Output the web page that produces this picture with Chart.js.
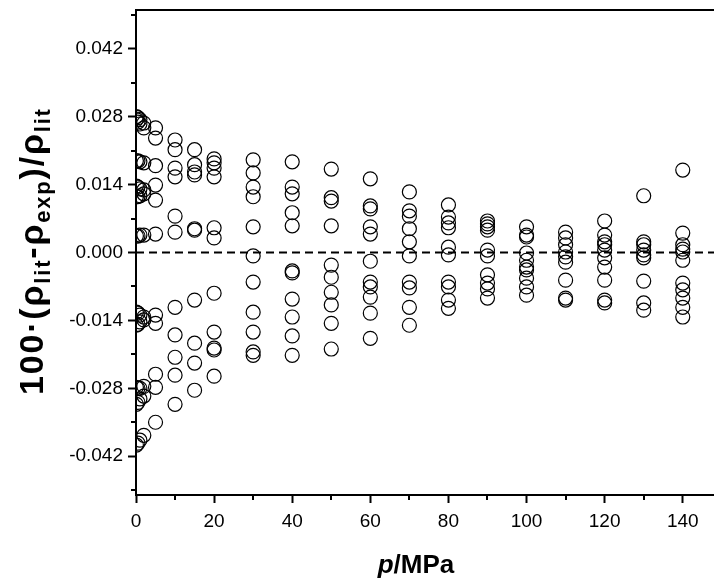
<!DOCTYPE html>
<html>
<head>
<meta charset="utf-8">
<script src="https://cdn.jsdelivr.net/npm/chart.js@4.4.1/dist/chart.umd.min.js"></script>
<style>
  html, body { margin: 0; padding: 0; background: #fff; }
  canvas { display: block; }
</style>
</head>
<body>
<canvas id="c" width="714" height="581"></canvas>
<script>
// ---- data (pressure in MPa, deviation 100·(ρlit-ρexp)/ρlit) ----
const pressures = [0.1, 0.5, 1, 2, 5, 10, 15, 20, 30, 40, 50, 60, 70, 80, 90, 100, 110, 120, 130, 140];

const dev_0_1 = [0.0280, 0.0274, 0.0189, 0.0137, 0.0115, 0.0034, -0.0123, -0.0150, -0.0278, -0.0313, -0.0397];
const dev_0_5 = [0.0278, 0.0269, 0.0189, 0.0135, 0.0115, 0.0034, -0.0125, -0.0148, -0.0280, -0.0309, -0.0393];
const dev_1   = [0.0274, 0.0265, 0.0187, 0.0131, 0.0117, 0.0036, -0.0129, -0.0143, -0.0280, -0.0302, -0.0387];
const dev_2   = [0.0267, 0.0257, 0.0185, 0.0129, 0.0121, 0.0036, -0.0133, -0.0139, -0.0276, -0.0296, -0.0377];
const dev_5   = [0.0257, 0.0236, 0.0179, 0.0139, 0.0108, 0.0038, -0.0129, -0.0146, -0.0251, -0.0278, -0.0350];
const dev_10  = [0.0232, 0.0212, 0.0174, 0.0156, 0.0075, 0.0042, -0.0113, -0.0170, -0.0216, -0.0253, -0.0313];
const dev_15  = [0.0212, 0.0181, 0.0166, 0.0160, 0.0049, 0.0046, -0.0098, -0.0187, -0.0228, -0.0284];
const dev_20  = [0.0193, 0.0185, 0.0174, 0.0156, 0.0051, 0.0030, -0.0084, -0.0164, -0.0197, -0.0201, -0.0255];
const dev_30  = [0.0191, 0.0164, 0.0135, 0.0115, 0.0053, -0.0007, -0.0061, -0.0123, -0.0164, -0.0205, -0.0212];
const dev_40  = [0.0187, 0.0135, 0.0121, 0.0082, 0.0055, -0.0038, -0.0042, -0.0096, -0.0133, -0.0172, -0.0212];
const dev_50  = [0.0172, 0.0113, 0.0106, 0.0055, -0.0026, -0.0051, -0.0082, -0.0108, -0.0146, -0.0199];
const dev_60  = [0.0152, 0.0096, 0.0090, 0.0053, 0.0038, -0.0018, -0.0061, -0.0071, -0.0092, -0.0125, -0.0177];
const dev_70  = [0.0125, 0.0086, 0.0075, 0.0049, 0.0022, -0.0007, -0.0061, -0.0073, -0.0113, -0.0150];
const dev_80  = [0.0098, 0.0073, 0.0061, 0.0051, 0.0011, -0.0005, -0.0061, -0.0071, -0.0098, -0.0115];
const dev_90  = [0.0065, 0.0059, 0.0053, 0.0046, 0.0005, -0.0007, -0.0046, -0.0063, -0.0075, -0.0094];
const dev_100 = [0.0053, 0.0036, 0.0032, -0.0001, -0.0016, -0.0030, -0.0036, -0.0053, -0.0071, -0.0088];
const dev_110 = [0.0042, 0.0030, 0.0016, 0.0001, -0.0009, -0.0020, -0.0057, -0.0094, -0.0098];
const dev_120 = [0.0065, 0.0036, 0.0022, 0.0016, 0.0005, -0.0011, -0.0030, -0.0057, -0.0098, -0.0104];
const dev_130 = [0.0117, 0.0022, 0.0016, 0.0005, -0.0005, -0.0011, -0.0059, -0.0104, -0.0119];
const dev_140 = [0.0170, 0.0040, 0.0016, 0.0007, 0.0001, -0.0016, -0.0063, -0.0077, -0.0094, -0.0113, -0.0133];

const deviations = [dev_0_1, dev_0_5, dev_1, dev_2, dev_5, dev_10, dev_15, dev_20, dev_30, dev_40,
                    dev_50, dev_60, dev_70, dev_80, dev_90, dev_100, dev_110, dev_120, dev_130, dev_140];

const xRange = [0, 148];
const yRange = [-0.05, 0.05];
const xMajorStep = 20, xMinorStep = 10;
const yMajorStep = 0.014, yMinorStep = 0.007;

// ---- build points ----
const points = [];
pressures.forEach((p, i) => deviations[i].forEach(d => points.push({ x: p, y: d })));

const FONT = '"Liberation Sans", Arial, Helvetica, sans-serif';

function isMult(v, step) {
  const r = v / step;
  return Math.abs(r - Math.round(r)) < 1e-6;
}
function stepTicks(min, max, step) {
  const out = [];
  for (let k = Math.ceil(min / step - 1e-9); k * step <= max + 1e-9; k++) {
    out.push({ value: Number((k * step).toFixed(6)) });
  }
  return out;
}

const decorPlugin = {
  id: 'decor',
  afterDraw(chart) {
    const ctx = chart.ctx;
    const ca = chart.chartArea;
    const xs = chart.scales.x, ys = chart.scales.y;
    ctx.save();
    ctx.strokeStyle = '#000';
    ctx.lineWidth = 2;
    // top frame line
    ctx.beginPath();
    ctx.moveTo(ca.left - 1, ca.top);
    ctx.lineTo(ca.right, ca.top);
    ctx.stroke();
    // minor ticks
    ys.ticks.forEach(t => {
      if (!isMult(t.value, yMajorStep)) {
        const y = Math.round(ys.getPixelForValue(t.value));
        ctx.beginPath();
        ctx.moveTo(ca.left - 5, y);
        ctx.lineTo(ca.left, y);
        ctx.stroke();
      }
    });
    xs.ticks.forEach(t => {
      if (!isMult(t.value, xMajorStep)) {
        const x = Math.round(xs.getPixelForValue(t.value));
        ctx.beginPath();
        ctx.moveTo(x, ca.bottom);
        ctx.lineTo(x, ca.bottom + 5);
        ctx.stroke();
      }
    });

    // x-axis title: p/MPa
    ctx.fillStyle = '#000';
    ctx.textBaseline = 'alphabetic';
    const fMain = 'bold 26px ' + FONT;
    const fIt = 'italic bold 26px ' + FONT;
    ctx.font = fIt;
    const wP = ctx.measureText('p').width;
    ctx.font = fMain;
    const wRest = ctx.measureText('/MPa').width;
    let x0 = 416 - (wP + wRest) / 2;
    ctx.font = fIt; ctx.fillText('p', x0, 573);
    ctx.font = fMain; ctx.fillText('/MPa', x0 + wP, 573);

    // y-axis title: 100·(ρlit-ρexp)/ρlit  (drawn char by char with slight spacing)
    const segs = [
      { t: '100\u00B7(\u03C1', sub: false },
      { t: 'lit', sub: true },
      { t: '-\u03C1', sub: false },
      { t: 'exp', sub: true },
      { t: ')/\u03C1', sub: false },
      { t: 'lit', sub: true }
    ];
    const fY = 'bold 34px ' + FONT;
    const fSub = 'bold 22px ' + FONT;
    const spacing = 1.8;
    const glyphs = [];
    segs.forEach(s => {
      ctx.font = s.sub ? fSub : fY;
      for (const ch of s.t) {
        glyphs.push({ ch, sub: s.sub, w: ctx.measureText(ch).width + spacing });
      }
    });
    const total = glyphs.reduce((a, g) => a + g.w, 0) - spacing;
    ctx.translate(43, 252);
    ctx.rotate(-Math.PI / 2);
    let cx = -total / 2;
    glyphs.forEach(g => {
      ctx.font = g.sub ? fSub : fY;
      ctx.fillText(g.ch, cx, g.sub ? 7 : 0);
      cx += g.w;
    });
    ctx.restore();
  }
};

new Chart(document.getElementById('c'), {
  type: 'scatter',
  data: {
    datasets: [
      {
        label: 'deviation',
        data: points,
        pointStyle: 'circle',
        pointRadius: 7,
        pointHoverRadius: 7,
        borderColor: '#000',
        borderWidth: 1.2,
        backgroundColor: 'rgba(255,255,255,0)',
        order: 1
      },
      {
        type: 'line',
        label: 'zero',
        data: [{ x: xRange[0], y: 0 }, { x: xRange[1], y: 0 }],
        borderColor: '#000',
        borderWidth: 2,
        borderDash: [8, 5],
        pointRadius: 0,
        fill: false,
        order: 2
      }
    ]
  },
  options: {
    responsive: false,
    animation: false,
    devicePixelRatio: 1,
    layout: { autoPadding: false, padding: { top: 10, right: 0, left: 0, bottom: 0 } },
    plugins: { legend: { display: false }, tooltip: { enabled: false } },
    scales: {
      x: {
        type: 'linear',
        min: xRange[0], max: xRange[1],
        afterFit(scale) { scale.height = 86; scale.paddingLeft = 0; scale.paddingRight = 0; },
        afterBuildTicks(scale) { scale.ticks = stepTicks(xRange[0], xRange[1], xMinorStep); },
        ticks: {
          autoSkip: false,
          maxRotation: 0,
          padding: 7,
          color: '#000',
          font: { family: FONT, size: 19 },
          callback(v) { return isMult(v, xMajorStep) ? String(Math.round(v)) : ''; }
        },
        grid: {
          display: true,
          drawOnChartArea: false,
          drawTicks: true,
          tickLength: 8,
          tickWidth: 2,
          tickColor(ctx) { return ctx.tick && isMult(ctx.tick.value, xMajorStep) ? '#000' : 'rgba(0,0,0,0)'; }
        },
        border: { display: true, color: '#000', width: 2 }
      },
      y: {
        type: 'linear',
        min: yRange[0], max: yRange[1],
        afterFit(scale) { scale.width = 136; scale.paddingTop = 0; scale.paddingBottom = 0; },
        afterBuildTicks(scale) { scale.ticks = stepTicks(yRange[0], yRange[1], yMinorStep); },
        ticks: {
          autoSkip: false,
          padding: 5,
          color: '#000',
          font: { family: FONT, size: 19 },
          callback(v) {
            if (!isMult(v, yMajorStep)) return '';
            return (Math.abs(v) < 1e-9 ? 0 : v).toFixed(3);
          }
        },
        grid: {
          display: true,
          drawOnChartArea: false,
          drawTicks: true,
          tickLength: 8,
          tickWidth: 2,
          tickColor(ctx) { return ctx.tick && isMult(ctx.tick.value, yMajorStep) ? '#000' : 'rgba(0,0,0,0)'; }
        },
        border: { display: true, color: '#000', width: 2 }
      }
    }
  },
  plugins: [decorPlugin]
});
</script>
</body>
</html>
